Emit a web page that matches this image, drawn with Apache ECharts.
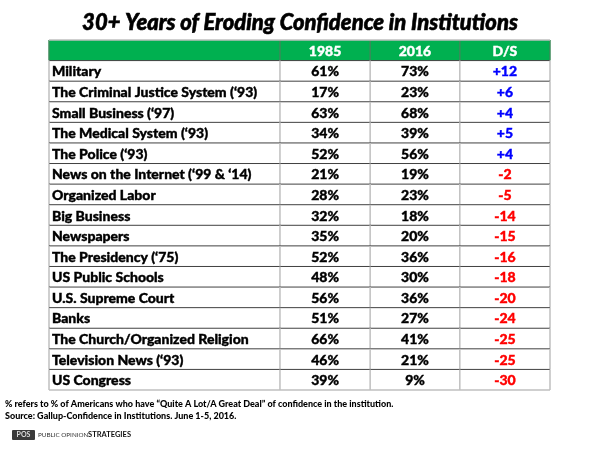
<!DOCTYPE html>
<html>
<head>
<meta charset="utf-8">
<script src="https://cdn.jsdelivr.net/npm/echarts@6/dist/echarts.min.js"></script>
<style>
  html, body { margin: 0; padding: 0; background: #fff; }
  #chart { width: 600px; height: 450px; }
</style>
</head>
<body>
<div id="chart"></div>
<script>
// table data
const headers = ['', '1985', '2016', 'D/S'];
const institutions = [
  'Military',
  'The Criminal Justice System (\u201893)',
  'Small Business (\u201897)',
  'The Medical System (\u201893)',
  'The Police (\u201893)',
  'News on the Internet (\u201899 & \u201814)',
  'Organized Labor',
  'Big Business',
  'Newspapers',
  'The Presidency (\u201875)',
  'US Public Schools',
  'U.S. Supreme Court',
  'Banks',
  'The Church/Organized Religion',
  'Television News (\u201893)',
  'US Congress'
];
const values1985 = [61, 17, 63, 34, 52, 21, 28, 32, 35, 52, 48, 56, 51, 66, 46, 39];
const values2016 = [73, 23, 68, 39, 56, 19, 23, 18, 20, 36, 30, 36, 27, 41, 21, 9];
const diffs = [12, 6, 4, 5, 4, -2, -5, -14, -15, -16, -18, -20, -24, -25, -25, -30];

// layout: column edges as a fraction of the table width
const colEdges = [0, 0.461, 0.641, 0.820, 1];
const FONT = 'Lato';

const rowKeys = ['header'].concat(institutions);

function renderRow(params, api) {
  const row = api.value(0);
  const cs = params.coordSys;
  const yc = api.coord([0, row])[1];
  const h = api.size([0, 1])[1];
  const top = yc - h / 2;
  const bottom = yc + h / 2;
  const xs = colEdges.map(f => cs.x + f * cs.width);
  const children = [];
  const isHeader = row === 0;

  if (isHeader) {
    children.push({
      type: 'rect',
      shape: { x: cs.x, y: top, width: cs.width, height: h },
      style: { fill: '#00b050' }
    });
  }

  let cells;
  if (isHeader) {
    cells = headers.map(t => ({ text: t, color: '#fff' }));
  } else {
    const i = row - 1;
    const d = diffs[i];
    cells = [
      { text: institutions[i], color: '#000' },
      { text: values1985[i] + '%', color: '#000' },
      { text: values2016[i] + '%', color: '#000' },
      { text: (d > 0 ? '+' : '') + d, color: d > 0 ? '#0000ff' : '#ff0000' }
    ];
  }

  cells.forEach((c, ci) => {
    const left = ci === 0;
    children.push({
      type: 'text',
      style: {
        x: left ? xs[0] + 3 : (xs[ci] + xs[ci + 1]) / 2,
        y: yc + 1,
        text: c.text,
        fill: c.color,
        stroke: c.color,
        lineWidth: 0.4,
        font: '900 14px ' + FONT,
        align: left ? 'left' : 'center',
        verticalAlign: 'middle'
      }
    });
  });

  // vertical lines
  xs.forEach(x => {
    children.push({
      type: 'line',
      shape: { x1: x, y1: top, x2: x, y2: bottom },
      style: { stroke: isHeader ? '#3c8a5a' : '#bfbfbf', lineWidth: 1.5 }
    });
  });

  // horizontal line under the row
  const last = row === rowKeys.length - 1;
  children.push({
    type: 'line',
    shape: { x1: cs.x, y1: bottom, x2: cs.x + cs.width, y2: bottom },
    style: { stroke: last ? '#bfbfbf' : '#404040', lineWidth: last ? 1.5 : 1 }
  });
  if (isHeader) {
    children.push({
      type: 'line',
      shape: { x1: cs.x, y1: top, x2: cs.x + cs.width, y2: top },
      style: { stroke: '#bfbfbf', lineWidth: 1.5 }
    });
  }

  return { type: 'group', children: children };
}

const chart = echarts.init(document.getElementById('chart'));
chart.setOption({
  animation: false,
  title: {
    text: '30+ Years of Eroding Confidence in Institutions',
    left: 'center',
    top: 7,
    textStyle: {
      fontFamily: FONT,
      fontSize: 22,
      fontWeight: 900,
      fontStyle: 'italic',
      color: '#000',
      textBorderColor: '#000',
      textBorderWidth: 0.6
    }
  },
  grid: { left: 49, right: 50, top: 40, height: 350 },
  xAxis: { type: 'value', min: 0, max: 1, show: false },
  yAxis: { type: 'category', data: rowKeys, inverse: true, show: false },
  series: [{
    type: 'custom',
    renderItem: renderRow,
    data: rowKeys.map((k, i) => [i]),
    encode: { y: 0 }
  }],
  graphic: [
    {
      type: 'text',
      left: 5,
      top: 398,
      style: {
        text: '% refers to % of Americans who have \u201cQuite A Lot/A Great Deal\u201d of confidence in the institution.\nSource: Gallup-Confidence in Institutions. June 1-5, 2016.',
        font: '900 9px ' + FONT,
        fill: '#000',
        lineHeight: 12
      }
    },
    {
      type: 'rect',
      shape: { x: 12, y: 430, width: 23, height: 10, r: 1 },
      style: { fill: '#3a3a3a' }
    },
    {
      type: 'text',
      style: {
        x: 23.5, y: 435, text: 'POS', fill: '#ddd',
        font: 'bold 7px ' + FONT, align: 'center', verticalAlign: 'middle'
      }
    },
    {
      type: 'text',
      style: {
        x: 38, y: 435, text: 'PUBLIC OPINION', fill: '#333',
        font: '6.3px ' + FONT, verticalAlign: 'middle'
      }
    },
    {
      type: 'text',
      style: {
        x: 131, y: 435, text: 'STRATEGIES', fill: '#111', align: 'right',
        font: 'bold 7.5px ' + FONT, verticalAlign: 'middle'
      }
    }
  ]
});
</script>
</body>
</html>
